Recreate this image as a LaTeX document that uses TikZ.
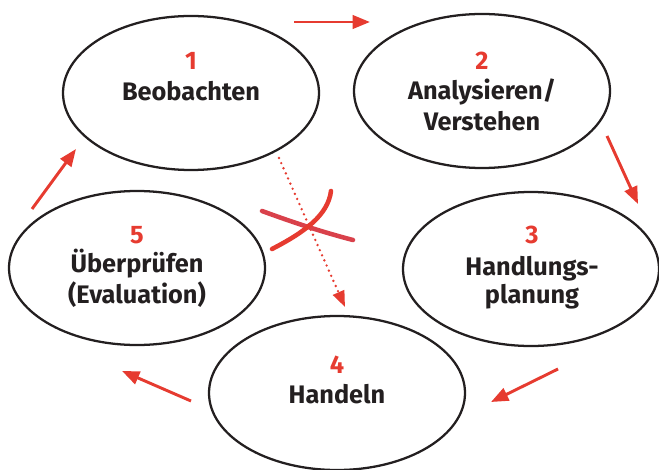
\documentclass[tikz,border=0pt]{standalone}
\usepackage{fontspec}
\setmainfont{Fira Sans}
\usetikzlibrary{arrows.meta,shapes.geometric}
\definecolor{cred}{HTML}{E63B30}
\definecolor{cpink}{HTML}{D9414B}
\definecolor{ctext}{HTML}{231F20}
\tikzset{
  phase/.style={draw=ctext, line width=1.7pt, ellipse, minimum width=192pt, minimum height=115.5pt, inner sep=0pt},
  num/.style={text=cred, font=\bfseries\fontsize{19}{19}\selectfont, anchor=base, inner sep=0pt},
  lbl/.style={text=ctext, font=\bfseries\fontsize{19}{19}\selectfont, anchor=base, inner sep=0pt},
  cyc/.style={draw=cred, line width=2.2pt, -{Triangle[length=13pt,width=10pt]}},
  dotarrow/.style={draw=cred, line width=2pt, line cap=round, dash pattern=on 0pt off 4.2pt, -{Triangle[length=12pt,width=9pt,line cap=butt]}},
  crossline/.style={line width=3.4pt, line cap=round}
}
\begin{document}
\begin{tikzpicture}[x=0.75pt,y=-0.75pt]
\useasboundingbox (0,0) rectangle (659,470);
% ellipses
\node[phase] (e1) at (191,93) {};
\node[phase] (e2) at (482,91) {};
\node[phase] (e3) at (531,269) {};
\node[phase] (e4) at (337,393) {};
\node[phase] (e5) at (137,268) {};
% texts
\node[num] (n1) at (191,70) {1};
\node[lbl] (l1) at (191,101) {Beobachten};
\node[num] (n2) at (482,70) {2};
\node[lbl] (l2a) at (482,100) {Analysieren/};
\node[lbl] (l2b) at (482,131) {Verstehen};
\node[num] (n3) at (532,243) {3};
\node[lbl] (l3a) at (532,275) {Handlungs-};
\node[lbl] (l3b) at (532,303) {planung};
\node[num] (n4) at (337,373) {4};
\node[lbl] (l4) at (337,403) {Handeln};
\node[num] (n5) at (137,243) {5};
\node[lbl] (l5a) at (137,272) {Überprüfen};
\node[lbl] (l5b) at (137,303) {(Evaluation)};
% arrow end points
\coordinate (a1s) at (294,22); \coordinate (a1e) at (370,22);
\coordinate (a2s) at (607,136); \coordinate (a2e) at (638,204);
\coordinate (a3s) at (558,369); \coordinate (a3e) at (491,402);
\coordinate (a4s) at (191,401); \coordinate (a4e) at (122,371);
\coordinate (a5s) at (32,209); \coordinate (a5e) at (76,149);
\coordinate (ds) at (279,158); \coordinate (de) at (345,307);
\draw[cyc] (a1s) -- (a1e);
\draw[cyc] (a2s) -- (a2e);
\draw[cyc] (a3s) -- (a3e);
\draw[cyc] (a4s) -- (a4e);
\draw[cyc] (a5s) -- (a5e);
\draw[dotarrow] (ds) -- (de);
% cross
\draw[crossline, draw=cpink] (262,211) .. controls (292,222) and (322,232) .. (353,240);
\draw[crossline, draw=cred] (272,249) .. controls (305,232) and (328,215) .. (331,191);
\end{tikzpicture}
\end{document}
